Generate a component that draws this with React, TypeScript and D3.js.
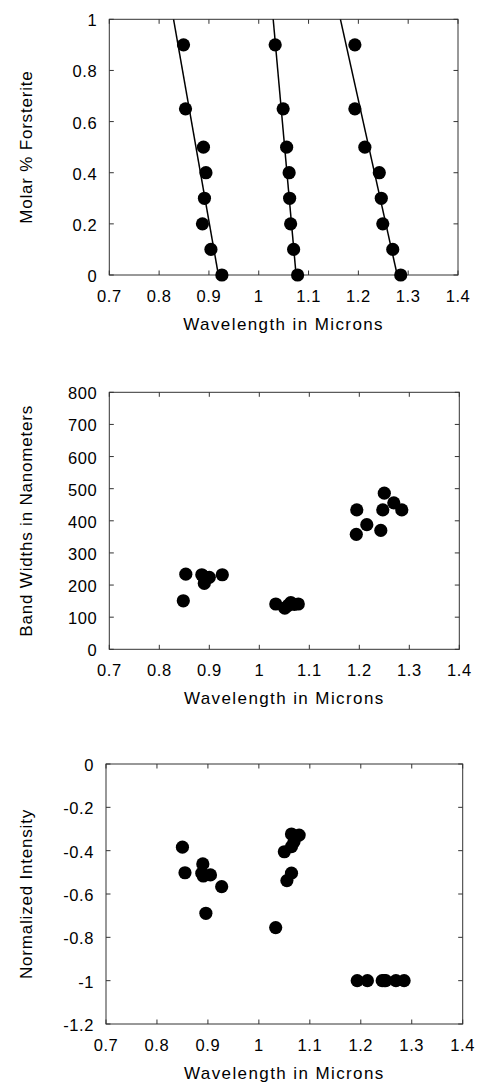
import React from "react";
import { scaleLinear, line } from "d3";

// x axis shared by all three panels
const wavelengthTicks = [0.7, 0.8, 0.9, 1.0, 1.1, 1.2, 1.3, 1.4];

// panel 1: band centre vs composition
const forsteriteFraction = [0.9, 0.65, 0.5, 0.4, 0.3, 0.2, 0.1, 0];
const band1Wavelength = [0.849, 0.853, 0.889, 0.894, 0.891, 0.887, 0.904, 0.926];
const band2Wavelength = [1.033, 1.049, 1.056, 1.061, 1.062, 1.064, 1.07, 1.078];
const band3Wavelength = [1.193, 1.193, 1.213, 1.242, 1.246, 1.249, 1.269, 1.285];
// fitted lines: wavelength at 100% and at 0% forsterite
const fitAtTop = [0.829, 1.029, 1.164];
const fitAtBottom = [0.919, 1.075, 1.278];
const forsteriteTicks = [0, 0.2, 0.4, 0.6, 0.8, 1];

// panel 2: band widths
const widthWavelength = [
  0.848, 0.853, 0.885, 0.888, 0.89, 0.9, 0.926,
  1.033, 1.051, 1.058, 1.063, 1.07, 1.078,
  1.194, 1.195, 1.215, 1.243, 1.247, 1.25, 1.269, 1.285,
];
const bandWidthNm = [
  151, 234, 232, 228, 205, 224, 232,
  141, 128, 137, 145, 140, 141,
  358, 434, 388, 370, 434, 486, 456, 434,
];
const bandWidthTicks = [0, 100, 200, 300, 400, 500, 600, 700, 800];

// panel 3: normalized intensity
const intensityWavelength = [
  0.85, 0.855, 0.89, 0.888, 0.891, 0.905, 0.927, 0.896,
  1.064, 1.079, 1.069, 1.05, 1.064, 1.064, 1.055, 1.033,
  1.193, 1.213, 1.242, 1.246, 1.249, 1.269, 1.285,
];
const normIntensity = [
  -0.384, -0.502, -0.461, -0.504, -0.517, -0.512, -0.566, -0.689,
  -0.323, -0.328, -0.358, -0.405, -0.381, -0.504, -0.538, -0.755,
  -1, -1, -1, -1, -1, -1, -1,
];
const intensityTicks = [0, -0.2, -0.4, -0.6, -0.8, -1, -1.2];

const font = "'Liberation Sans', Arial, Helvetica, sans-serif";
const frameColor = "#333";
const tickLen = 4.5;

type Box = { left: number; right: number; top: number; bottom: number };

function Panel(props: {
  box: Box;
  yDomain: [number, number];
  yTicks: number[];
  yTitle: string;
  xs: number[];
  ys: number[];
  fits?: { top: number[]; bottom: number[] };
}) {
  const { box, yDomain, yTicks, yTitle, xs, ys, fits } = props;
  const x = scaleLinear().domain([0.7, 1.4]).range([box.left, box.right]);
  const y = scaleLinear().domain(yDomain).range([box.bottom, box.top]);
  const fitLine = line<[number, number]>()
    .x((d) => x(d[0]))
    .y((d) => y(d[1]));
  const midY = (box.top + box.bottom) / 2;
  const midX = (box.left + box.right) / 2;

  return (
    <g fontFamily={font} fill="#000">
      <rect
        x={box.left}
        y={box.top}
        width={box.right - box.left}
        height={box.bottom - box.top}
        fill="none"
        stroke={frameColor}
        strokeWidth={1}
      />
      {wavelengthTicks.map((t) => (
        <g key={"x" + t}>
          <line x1={x(t)} x2={x(t)} y1={box.bottom} y2={box.bottom - tickLen} stroke={frameColor} />
          <line x1={x(t)} x2={x(t)} y1={box.top} y2={box.top + tickLen} stroke={frameColor} />
          <text x={x(t)} y={box.bottom + 27} textAnchor="middle" fontSize={16.5} letterSpacing={0.6}>
            {String(+t.toFixed(1))}
          </text>
        </g>
      ))}
      {yTicks.map((t) => (
        <g key={"y" + t}>
          <line x1={box.left} x2={box.left + tickLen} y1={y(t)} y2={y(t)} stroke={frameColor} />
          <line x1={box.right} x2={box.right - tickLen} y1={y(t)} y2={y(t)} stroke={frameColor} />
          <text x={box.left - 12} y={y(t) + 7} textAnchor="end" fontSize={16.5} letterSpacing={0.6}>
            {String(+t.toFixed(1))}
          </text>
        </g>
      ))}
      <text x={midX} y={box.bottom + 55} textAnchor="middle" fontSize={17} letterSpacing={1.4}>
        Wavelength in Microns
      </text>
      <text
        transform={`translate(${32},${midY}) rotate(-90)`}
        textAnchor="middle"
        fontSize={17}
        letterSpacing={0.8}
      >
        {yTitle}
      </text>
      {fits &&
        fits.top.map((w, i) => (
          <path
            key={"fit" + i}
            d={fitLine([
              [w, yDomain[1]],
              [fits.bottom[i], yDomain[0]],
            ]) as string}
            fill="none"
            stroke="#000"
            strokeWidth={1.5}
          />
        ))}
      {xs.map((v, i) => (
        <circle key={"p" + i} cx={x(v)} cy={y(ys[i])} r={6.6} fill="#000" />
      ))}
    </g>
  );
}

export default function App() {
  const p1x = [...band1Wavelength, ...band2Wavelength, ...band3Wavelength];
  const p1y = [...forsteriteFraction, ...forsteriteFraction, ...forsteriteFraction];
  return (
    <svg
      width={483}
      height={1084}
      style={{ position: "absolute", left: 0, top: 0, background: "#fff" }}
    >
      <Panel
        box={{ left: 109.3, right: 458, top: 19.3, bottom: 275 }}
        yDomain={[0, 1]}
        yTicks={forsteriteTicks}
        yTitle="Molar % Forsterite"
        xs={p1x}
        ys={p1y}
        fits={{ top: fitAtTop, bottom: fitAtBottom }}
      />
      <Panel
        box={{ left: 109.3, right: 459.3, top: 392.3, bottom: 649.3 }}
        yDomain={[0, 800]}
        yTicks={bandWidthTicks}
        yTitle="Band Widths in Nanometers"
        xs={widthWavelength}
        ys={bandWidthNm}
      />
      <Panel
        box={{ left: 106, right: 462.7, top: 764, bottom: 1024 }}
        yDomain={[-1.2, 0]}
        yTicks={intensityTicks}
        yTitle="Normalized Intensity"
        xs={intensityWavelength}
        ys={normIntensity}
      />
    </svg>
  );
}
